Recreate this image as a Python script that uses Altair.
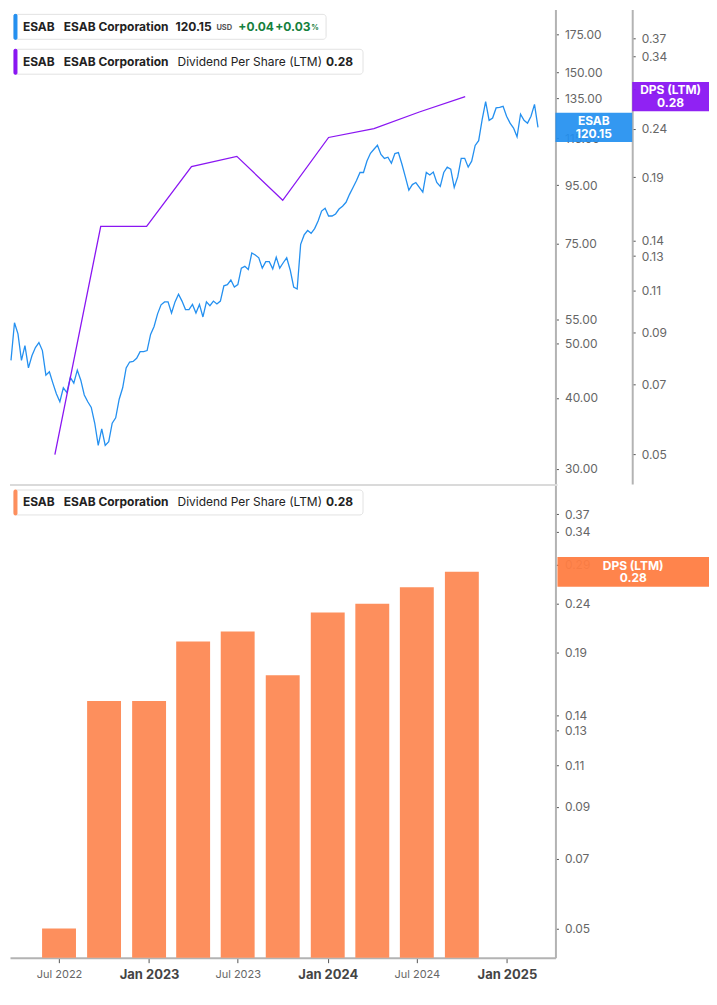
import altair as alt
import pandas as pd

# ---------------- data ----------------
price_start = "2022-04-04"
prices = [46.6, 54.3, 51.9, 46.6, 49.5, 45.2, 47.5, 49.1, 50.1, 48.5,
          43.9, 44.5, 42.5, 40.7, 39.4, 41.7, 40.9, 43.5, 42.5, 44.8,
          43.0, 40.5, 39.4, 38.5, 36.1, 33.0, 35.3, 33.0, 33.5, 36.1,
          36.9, 39.8, 41.7, 45.2, 46.3, 46.4, 47.0, 48.3, 48.3, 48.5,
          51.8, 53.5, 56.3, 58.4, 59.1, 59.1, 56.5, 59.1, 61.0, 59.3,
          57.3, 57.3, 58.5, 56.5, 58.5, 55.6, 59.1, 58.2, 59.3, 58.6,
          59.3, 63.1, 63.4, 64.6, 62.8, 63.4, 67.8, 68.3, 67.4, 72.1,
          71.5, 70.7, 67.8, 69.6, 69.6, 67.6, 70.9, 67.8, 69.3, 70.7,
          67.3, 62.8, 62.3, 74.7, 77.6, 79.0, 78.1, 79.6, 82.1, 85.5,
          86.5, 83.8, 83.8, 84.5, 86.2, 87.2, 88.6, 91.5, 94.1, 96.8,
          100.0, 100.0, 104.8, 108.1, 109.9, 111.7, 107.6, 105.9, 106.4, 103.8,
          108.0, 108.4, 103.5, 98.2, 93.1, 95.2, 96.0, 94.1, 92.3, 100.0,
          99.0, 100.2, 96.0, 94.5, 100.0, 102.2, 101.4, 94.1, 98.2, 105.9,
          105.9, 102.2, 104.7, 111.6, 113.8, 124.0, 133.4, 123.6, 124.8, 130.0,
          130.3, 130.8, 125.7, 122.2, 119.8, 115.6, 126.7, 123.6, 122.2, 125.7,
          131.9, 120.15]

div_dates = ["2022-07-01", "2022-10-01", "2023-01-01", "2023-04-01", "2023-07-01",
             "2023-10-01", "2024-01-01", "2024-04-01", "2024-07-01", "2024-10-01"]
div_values = [0.05, 0.15, 0.15, 0.20, 0.21, 0.17, 0.23, 0.24, 0.26, 0.28]

price_ticks = [175, 150, 135, 115, 95, 75, 55, 50, 40, 30]
dps_ticks = [0.37, 0.34, 0.29, 0.24, 0.19, 0.14, 0.13, 0.11, 0.09, 0.07, 0.05]
x_tick_dates = [(2022, 7), (2023, 1), (2023, 7), (2024, 1), (2024, 7), (2025, 1)]

last_price = 120.15
last_dps = 0.28

price_domain = [28.2, 194]
dps_domain = [0.0434, 0.426]

# ---------------- styling ----------------
W = 547
H1 = 476
H2 = 474
BLUE = "#2490f0"
PURPLE = "#8a16f2"
ORANGE = "#fd8f5d"
ORANGE_BOX = "#ff7d42"
GREEN = "#15803d"
DARK = "#222222"
FONT = "Inter"

price_df = pd.DataFrame({
    "date": pd.date_range(price_start, periods=len(prices), freq="7D"),
    "price": prices,
})
div_df = pd.DataFrame({"date": pd.to_datetime(div_dates), "dps": div_values})

x_scale = alt.Scale(domain=[alt.DateTime(year=2022, month=4, date=2),
                            alt.DateTime(year=2025, month=3, date=31)])
price_scale = alt.Scale(type="log", domain=price_domain)
dps_scale = alt.Scale(type="log", domain=dps_domain)

axis_common = dict(
    orient="right", format=".2f", grid=False, title=None,
    domainColor="#b3b3b3", domainWidth=2,
    tickColor="#555555", tickSize=3, tickWidth=1,
    labelColor="#666666", labelFontSize=12, labelFont=FONT,
    labelPadding=6,
)

one = pd.DataFrame({"a": [0]})


def box(x1, x2, y1, y2, fill="white", stroke="#e2e2e2", radius=3):
    return alt.Chart(one).mark_rect(fill=fill, stroke=stroke, strokeWidth=1,
                                    cornerRadius=radius).encode(
        x=alt.value(x1), x2=alt.value(x2), y=alt.value(y1), y2=alt.value(y2))


def txt(x, y, s, size=12, weight="bold", color=DARK):
    return alt.Chart(one).mark_text(align="left", baseline="middle", font=FONT,
                                    fontSize=size, fontWeight=weight,
                                    color=color).encode(
        x=alt.value(x), y=alt.value(y), text=alt.value(s))


def legend_dps(bar_color, yc):
    return [
        box(4, 354, yc - 12.5, yc + 12.5),
        box(4, 7, yc - 12.5, yc + 12.5, fill=bar_color, stroke=bar_color, radius=1),
        txt(13, yc, "ESAB"),
        txt(54, yc, "ESAB Corporation"),
        txt(168, yc, "Dividend Per Share (LTM)", weight="normal"),
        txt(317, yc, f"{last_dps:.2f}"),
    ]


# ---------------- top panel ----------------
price_line = alt.Chart(price_df).mark_line(color=BLUE, strokeWidth=1.3).encode(
    x=alt.X("date:T", scale=x_scale, axis=None),
    y=alt.Y("price:Q", scale=price_scale,
            axis=alt.Axis(values=price_ticks, **axis_common)),
)

dps_line = alt.Chart(div_df).mark_line(color=PURPLE, strokeWidth=1.3).encode(
    x=alt.X("date:T", scale=x_scale, axis=None),
    y=alt.Y("dps:Q", scale=dps_scale,
            axis=alt.Axis(values=dps_ticks, offset=77, **axis_common)),
)

rect_path = "M-1,-0.38H1V0.38H-1Z"

price_box = alt.Chart(pd.DataFrame({"v": [last_price]})).mark_point(
    shape=rect_path, filled=True, size=77 ** 2, color=BLUE, opacity=0.93,
    strokeWidth=0).encode(
    x=alt.value(W + 38.5),
    y=alt.Y("v:Q", scale=price_scale, axis=None),
)
price_box_text = alt.Chart(pd.DataFrame({"v": [last_price]})).mark_text(
    color="white", font=FONT, fontSize=12, fontWeight="bold", lineHeight=13,
    baseline="middle", align="center", dy=-6.5).encode(
    x=alt.value(W + 38.5),
    y=alt.Y("v:Q", scale=price_scale, axis=None),
    text=alt.value(["ESAB", f"{last_price:.2f}"]),
)

dps_box = alt.Chart(pd.DataFrame({"v": [last_dps]})).mark_point(
    shape=rect_path, filled=True, size=77 ** 2, color=PURPLE, opacity=0.95,
    strokeWidth=0).encode(
    x=alt.value(W + 77 + 38.5),
    y=alt.Y("v:Q", scale=dps_scale, axis=None),
)
dps_box_text = alt.Chart(pd.DataFrame({"v": [last_dps]})).mark_text(
    color="white", font=FONT, fontSize=12, fontWeight="bold", lineHeight=13,
    baseline="middle", align="center", dy=-6.5).encode(
    x=alt.value(W + 77 + 38.5),
    y=alt.Y("v:Q", scale=dps_scale, axis=None),
    text=alt.value(["DPS (LTM)", f"{last_dps:.2f}"]),
)

legend_price = [
    box(4, 317, 5, 30),
    box(4, 7, 5, 30, fill=BLUE, stroke=BLUE, radius=1),
    txt(13, 17.5, "ESAB"),
    txt(54, 17.5, "ESAB Corporation"),
    txt(166, 17.5, f"{last_price:.2f}"),
    txt(207, 19, "USD", size=7.5, color="#555555"),
    txt(229, 17.5, "+0.04", color=GREEN),
    txt(266, 17.5, "+0.03", color=GREEN),
    txt(302, 19, "%", size=7.5, color=GREEN),
]

top = alt.layer(
    price_line, dps_line, price_box, price_box_text, dps_box, dps_box_text,
    *legend_price, *legend_dps(PURPLE, 52.5)
).resolve_scale(y="independent").properties(width=W, height=H1)

# ---------------- bottom panel ----------------
x_axis = alt.Axis(
    values=[alt.DateTime(year=y, month=m, date=1) for y, m in x_tick_dates],
    labelExpr="timeFormat(datum.value, '%b %Y')",
    labelFontWeight={"expr": "month(datum.value) == 0 ? 'bold' : 'normal'"},
    labelFontSize={"expr": "month(datum.value) == 0 ? 13 : 11"},
    labelColor={"expr": "month(datum.value) == 0 ? '#444444' : '#666666'"},
    labelFont=FONT, labelPadding=6,
    grid=False, title=None,
    domainColor="#b3b3b3", domainWidth=2,
    tickColor="#555555", tickSize=5, tickWidth=1,
)

dps_axis = alt.Axis(values=dps_ticks, **axis_common)

bars = alt.Chart(div_df).mark_bar(color=ORANGE, width=34).encode(
    x=alt.X("date:T", scale=x_scale, axis=x_axis),
    y=alt.Y("dps:Q", scale=dps_scale, axis=dps_axis),
    y2=alt.datum(dps_domain[0]),
)

sep = alt.Chart(one).mark_rule(color="#dadada", strokeWidth=2).encode(
    x=alt.value(0), x2=alt.value(W + 2), y=alt.value(0))

bottom_box = alt.Chart(pd.DataFrame({"dps": [last_dps]})).mark_point(
    shape="M-1,-0.195H1V0.195H-1Z", filled=True, size=152 ** 2,
    color=ORANGE_BOX, opacity=0.95, strokeWidth=0).encode(
    x=alt.value(W + 78),
    y=alt.Y("dps:Q", scale=dps_scale, axis=dps_axis),
)
bottom_box_text = alt.Chart(pd.DataFrame({"dps": [last_dps]})).mark_text(
    color="white", font=FONT, fontSize=12, fontWeight="bold", lineHeight=12,
    baseline="middle", align="center", dy=-6).encode(
    x=alt.value(W + 78),
    y=alt.Y("dps:Q", scale=dps_scale, axis=dps_axis),
    text=alt.value(["DPS (LTM)", f"{last_dps:.2f}"]),
)

bottom = alt.layer(
    bars, sep, bottom_box, bottom_box_text, *legend_dps(ORANGE, 17.5)
).properties(width=W, height=H2)

chart = alt.vconcat(top, bottom, spacing=0).properties(
    padding=0, background="white"
).configure_view(strokeWidth=0)

chart.save("out.html", embed_options={"renderer": "svg", "actions": False})
